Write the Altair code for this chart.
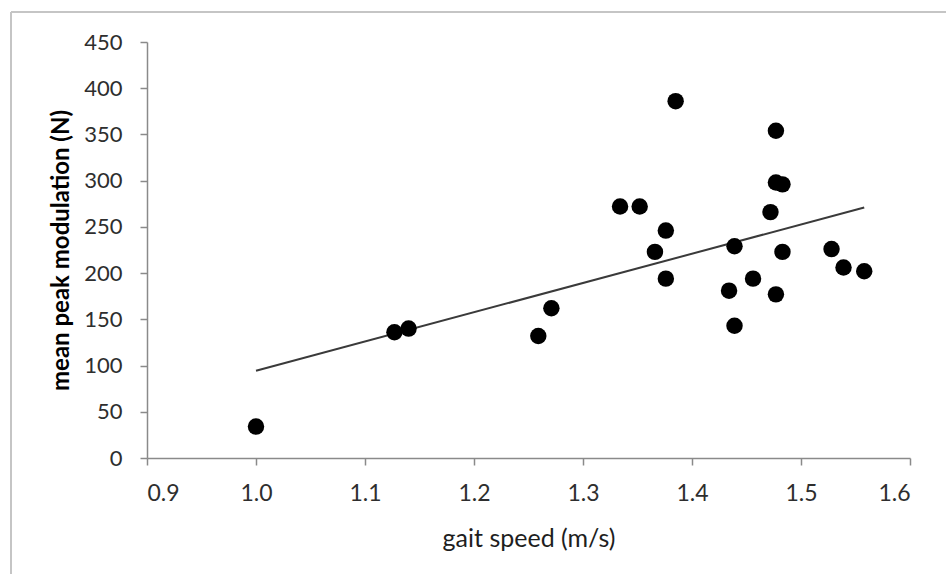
import altair as alt
import pandas as pd

gait_speed = [1.000, 1.127, 1.140, 1.259, 1.271, 1.334, 1.352, 1.366, 1.376, 1.376,
              1.385, 1.434, 1.439, 1.439, 1.456, 1.472, 1.477, 1.477, 1.483, 1.477,
              1.483, 1.528, 1.539, 1.558]
peak_mod = [34, 136, 140, 132, 162, 272, 272, 223, 246, 194,
            386, 181, 229, 143, 194, 266, 354, 298, 296, 177,
            223, 226, 206, 202]

x_ticks = [0.9, 1.0, 1.1, 1.2, 1.3, 1.4, 1.5, 1.6]
y_ticks = [0, 50, 100, 150, 200, 250, 300, 350, 400, 450]

df = pd.DataFrame({"speed": gait_speed, "mod": peak_mod})

FONT = "Lato"
AX = "#8a8a8a"

x_enc = alt.X(
    "speed:Q",
    scale=alt.Scale(domain=[0.9, 1.6], nice=False, zero=False),
    axis=alt.Axis(
        values=x_ticks, format=".1f", title="gait speed (m/s)",
        grid=False, domainColor=AX, domainWidth=1.5, tickColor=AX, tickWidth=1.5,
        tickSize=7, labelFont=FONT, labelFontSize=23, labelColor="#2e2e2e",
        labelPadding=17, titleFont=FONT, titleFontSize=25, titleFontWeight="normal",
        titleColor="#1e1e1e", titleY=80, titleBaseline="middle",
    ),
)
y_enc = alt.Y(
    "mod:Q",
    scale=alt.Scale(domain=[0, 450], nice=False),
    axis=alt.Axis(
        values=y_ticks, title="mean peak modulation  (N)",
        grid=False, domainColor=AX, domainWidth=1.5, tickColor=AX, tickWidth=1.5,
        tickSize=7, labelFont=FONT, labelFontSize=22, labelColor="#2e2e2e",
        labelPadding=18, titleFont=FONT, titleFontSize=24, titleFontWeight="bold",
        titleColor="#000000", titleX=-74, titleY=208, titleAngle=270,
        titleBaseline="bottom", titleAlign="center",
    ),
)

points = alt.Chart(df).mark_circle(size=270, color="#000000", opacity=1).encode(
    x=x_enc, y=y_enc
)

trend = (
    alt.Chart(df)
    .transform_regression("speed", "mod", method="linear")
    .mark_line(color="#3a3a3a", strokeWidth=2)
    .encode(x="speed:Q", y="mod:Q")
)

frame_left = alt.Chart(df).mark_rule(color="#c4c4c4", strokeWidth=1.5).encode(
    x=alt.value(-136), y=alt.value(-30), y2=alt.value(540)
)
frame_top = alt.Chart(df).mark_rule(color="#c4c4c4", strokeWidth=1.5).encode(
    x=alt.value(-136), x2=alt.value(800), y=alt.value(-30)
)

chart = (
    alt.layer(frame_left, frame_top, trend, points)
    .properties(
        width=763, height=416,
        autosize=alt.AutoSizeParams(type="none"),
        padding={"left": 147, "top": 42, "right": 36, "bottom": 116},
        background="#ffffff",
    )
    .configure_view(stroke=None)
)

chart.save("out.html", embed_options={"renderer": "svg", "actions": False})
